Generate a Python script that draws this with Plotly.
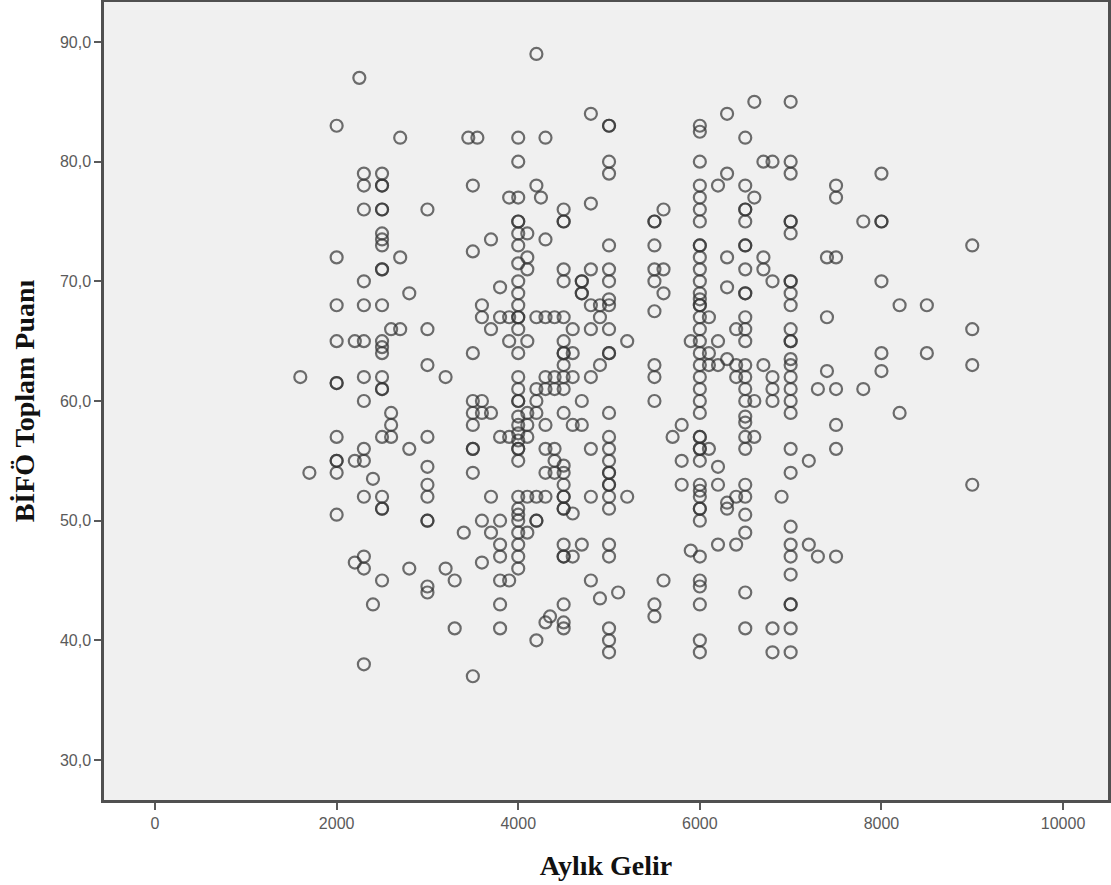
import plotly.graph_objects as go

# BİFÖ toplam puanları, aylık gelir düzeyine göre
p1600 = [62]
p1700 = [54]
p2000 = [83, 72, 68, 65, 61.5, 61.5, 57, 55, 55, 54, 50.5]
p2200 = [65, 55, 46.5]
p2250 = [87]
p2300 = [79, 78, 76, 70, 68, 65, 62, 60, 56, 55, 52, 47, 46, 38]
p2400 = [53.5, 43]
p2500 = [79, 78, 78, 76, 76, 74, 73.5, 73, 71, 71, 68, 65, 64.5, 64, 62, 61, 61,
         57, 52, 51, 51, 45]
p2600 = [66, 59, 58, 57]
p2700 = [82, 72, 66]
p2800 = [69, 56, 46]
p3000 = [76, 66, 63, 57, 54.5, 53, 52, 50, 50, 44.5, 44]
p3200 = [62, 46]
p3300 = [45, 41]
p3400 = [49]
p3450 = [82]
p3500 = [78, 72.5, 64, 60, 59, 58, 56, 56, 54, 37]
p3550 = [82]
p3600 = [68, 67, 60, 59, 50, 46.5]
p3700 = [73.5, 66, 59, 52, 49]
p3800 = [69.5, 67, 57, 50, 48, 47, 45, 43, 41]
p3900 = [77, 67, 65, 57, 45]
p4000 = [82, 80, 77, 75, 75, 74, 73, 71.5, 70, 69, 68, 67, 67, 66, 64, 62, 61,
         60, 60, 58.7, 58, 57.3, 56.7, 56, 56, 55, 52, 51, 50.5, 50, 49, 48, 47, 46]
p4100 = [74, 72, 71, 65, 59, 58, 57, 52, 49]
p4200 = [89, 78, 67, 61, 60, 59, 52, 50, 50, 40]
p4250 = [77]
p4300 = [82, 73.5, 67, 62, 61, 58, 56, 54, 52, 41.5]
p4350 = [42]
p4400 = [67, 62, 61, 56, 55, 54]
p4500 = [76, 75, 75, 71, 70, 67, 65, 64, 64, 63, 62, 61, 59, 54.6, 54, 53, 52,
         52, 51, 51, 48, 47, 47, 43, 41.5, 41]
p4600 = [66, 64, 62, 58, 50.6, 47]
p4700 = [70, 70, 69, 69, 60, 58, 48]
p4800 = [84, 76.5, 71, 68, 66, 62, 56, 52, 45]
p4900 = [68, 67, 63, 43.5]
p5000 = [83, 83, 80, 79, 73, 71, 70, 68.5, 68, 66, 64, 64, 59, 57, 56, 55, 54,
         54, 53, 53, 52, 51, 48, 47, 41, 40, 39]
p5100 = [44]
p5200 = [65, 52]
p5500 = [75, 75, 73, 71, 70, 67.5, 63, 62, 60, 43, 42]
p5600 = [76, 71, 69, 45]
p5700 = [57]
p5800 = [58, 55, 53]
p5900 = [65, 47.5]
p6000 = [83, 82.5, 80, 78, 77, 76, 75, 73, 73, 72, 71, 70, 69, 68.5, 68, 68, 67,
         66, 65, 64, 63, 62, 61, 60, 59, 57, 57, 56, 56, 55, 53, 52.5, 52, 51, 51,
         50, 47, 45, 44.5, 43, 40, 39]
p6100 = [67, 64, 63, 56]
p6200 = [78, 65, 63, 54.5, 53, 48]
p6300 = [84, 79, 72, 69.5, 63.5, 51.5, 51]
p6400 = [66, 63, 62, 52, 48]
p6500 = [82, 78, 76, 76, 75, 73, 73, 71, 69, 69, 67, 66, 65, 63, 62, 61, 60,
         58.7, 58.2, 57, 56, 53, 52, 50.5, 49, 44, 41]
p6600 = [85, 77, 60, 57]
p6700 = [80, 72, 71, 63]
p6800 = [80, 70, 62, 61, 60, 41, 39]
p6900 = [52]
p7000 = [85, 80, 79, 75, 75, 74, 70, 70, 69, 68, 66, 65, 65, 63.5, 63, 62, 61,
         60, 59, 56, 54, 49.5, 48, 47, 45.5, 43, 43, 41, 39]
p7200 = [55, 48]
p7300 = [61, 47]
p7400 = [72, 67, 62.5]
p7500 = [78, 77, 72, 61, 58, 56, 47]
p7800 = [75, 61]
p8000 = [79, 75, 75, 70, 64, 62.5]
p8200 = [68, 59]
p8500 = [68, 64]
p9000 = [73, 66, 63, 53]

gruplar = [
    (1600, p1600), (1700, p1700), (2000, p2000), (2200, p2200), (2250, p2250),
    (2300, p2300), (2400, p2400), (2500, p2500), (2600, p2600), (2700, p2700),
    (2800, p2800), (3000, p3000), (3200, p3200), (3300, p3300), (3400, p3400),
    (3450, p3450), (3500, p3500), (3550, p3550), (3600, p3600), (3700, p3700),
    (3800, p3800), (3900, p3900), (4000, p4000), (4100, p4100), (4200, p4200),
    (4250, p4250), (4300, p4300), (4350, p4350), (4400, p4400), (4500, p4500),
    (4600, p4600), (4700, p4700), (4800, p4800), (4900, p4900), (5000, p5000),
    (5100, p5100), (5200, p5200), (5500, p5500), (5600, p5600), (5700, p5700),
    (5800, p5800), (5900, p5900), (6000, p6000), (6100, p6100), (6200, p6200),
    (6300, p6300), (6400, p6400), (6500, p6500), (6600, p6600), (6700, p6700),
    (6800, p6800), (6900, p6900), (7000, p7000), (7200, p7200), (7300, p7300),
    (7400, p7400), (7500, p7500), (7800, p7800), (8000, p8000), (8200, p8200),
    (8500, p8500), (9000, p9000),
]

x_ticks = [0, 2000, 4000, 6000, 8000, 10000]
y_ticks = [30, 40, 50, 60, 70, 80, 90]
y_tick_labels = ["30,0", "40,0", "50,0", "60,0", "70,0", "80,0", "90,0"]

gelir = []
puan = []
for g, vals in gruplar:
    for v in vals:
        gelir.append(g)
        puan.append(v)

fig = go.Figure(
    go.Scatter(
        x=gelir,
        y=puan,
        mode="markers",
        marker=dict(
            symbol="circle-open",
            size=12,
            color="rgba(50,50,50,0.7)",
            line=dict(width=2.2, color="rgba(50,50,50,0.7)"),
        ),
        hoverinfo="x+y",
    )
)

axis_common = dict(
    showline=True,
    mirror=True,
    linecolor="#505050",
    linewidth=2.5,
    showgrid=False,
    zeroline=False,
    automargin=False,
    ticks="outside",
    ticklen=7,
    tickwidth=2,
    tickcolor="#5a5a5a",
    tickfont=dict(family="Liberation Sans, Arial, sans-serif", size=16, color="#5a5a5a"),
)

title_font = dict(family="Liberation Serif, Times New Roman, serif", size=28,
                  color="#111111", weight="bold")

fig.update_xaxes(
    range=[-562, 10495],
    tickvals=x_ticks,
    ticktext=[str(t) for t in x_ticks],
    title=dict(text="Aylık Gelir", font=title_font, standoff=25),
    **axis_common,
)
fig.update_yaxes(
    range=[26.66, 93.34],
    tickvals=y_ticks,
    ticktext=y_tick_labels,
    title=dict(text="BİFÖ Toplam Puanı", font=title_font, standoff=18),
    **axis_common,
)

fig.update_layout(
    width=1111,
    height=885,
    margin=dict(l=104, r=3, t=2, b=85),
    plot_bgcolor="#f0f0f0",
    paper_bgcolor="#ffffff",
    showlegend=False,
)

fig.write_html("out.html")
